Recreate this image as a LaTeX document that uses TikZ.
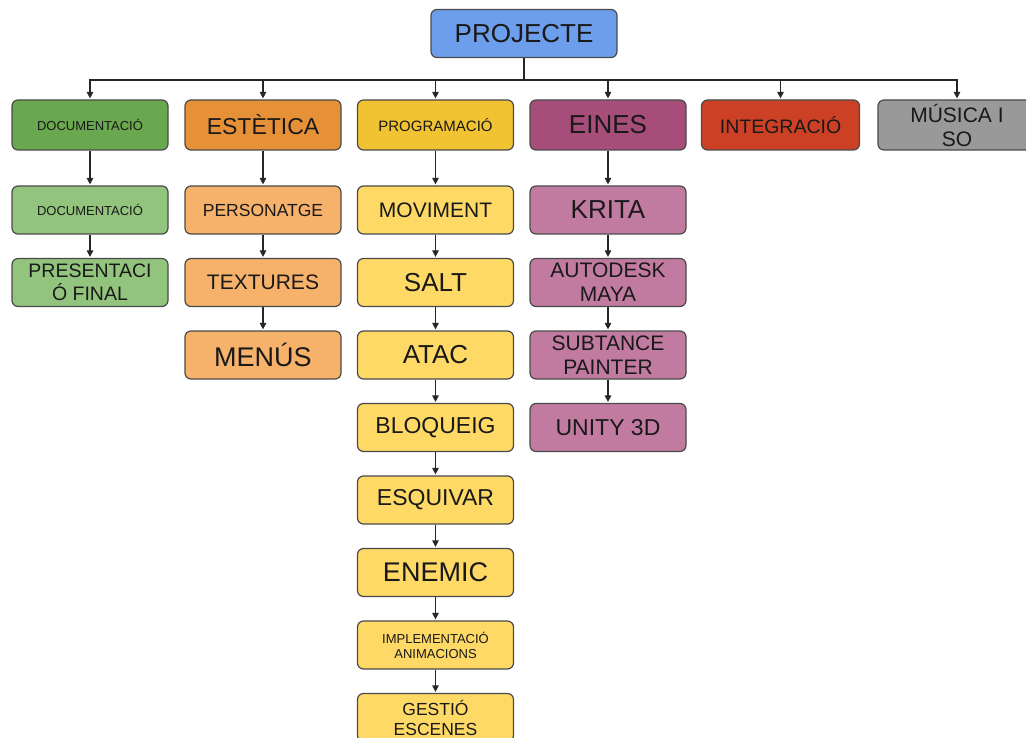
\documentclass[tikz,border=0pt]{standalone}
\usepackage{fontspec}
\setmainfont{Liberation Sans}
\usetikzlibrary{arrows.meta}
\definecolor{bordc}{HTML}{4A4A4A}
\definecolor{cblue}{HTML}{6D9EEB}
\definecolor{cgreen}{HTML}{6AA84F}
\definecolor{corange}{HTML}{E69138}
\definecolor{cyellow}{HTML}{F1C232}
\definecolor{cpurple}{HTML}{A64D79}
\definecolor{cred}{HTML}{CC4125}
\definecolor{cgray}{HTML}{999999}
\definecolor{lgreen}{HTML}{93C47D}
\definecolor{lorange}{HTML}{F6B26B}
\definecolor{lyellow}{HTML}{FFD966}
\definecolor{lpurple}{HTML}{C27BA0}
\tikzset{
  box/.style={draw=bordc, line width=1.2pt, rounded corners=6pt, minimum width=156pt,
    minimum height=48pt, inner sep=0pt, align=center, text=black!90},
  topbox/.style={box, minimum height=50pt},
  conn/.style={draw=black!85, line width=1.2pt},
  arr/.style={conn, -{Triangle[length=6.5pt,width=6.5pt]}, shorten >=1pt},
  f27/.style={font=\fontsize{27}{30}\selectfont},
  f26/.style={font=\fontsize{26}{29}\selectfont},
  f23/.style={font=\fontsize{23}{26}\selectfont},
  f21/.style={font=\fontsize{21}{24}\selectfont},
  f19/.style={font=\fontsize{19.5}{23}\selectfont},
  f17/.style={font=\fontsize{17.5}{20}\selectfont},
  f15/.style={font=\fontsize{15}{18}\selectfont},
  f13/.style={font=\fontsize{13}{15}\selectfont},
}
\begin{document}
\begin{tikzpicture}[x=1pt,y=-1pt]
\useasboundingbox[fill=white] (0,0) rectangle (1026,738);
% top
\node[box, fill=cblue, minimum width=186pt, minimum height=48pt, f26] (P) at (524,33.5) {PROJECTE};
% level 1
\node[topbox, fill=cgreen, f13] (doc) at (90,125) {DOCUMENTACIÓ};
\node[topbox, fill=corange, f23] (est) at (263,125) {ESTÈTICA};
\node[topbox, fill=cyellow, f15] (prog) at (435.5,125) {PROGRAMACIÓ};
\node[topbox, fill=cpurple, f26] (ein) at (608,125) {EINES};
\node[topbox, fill=cred, minimum width=158pt, f19] (integ) at (780.5,125) {INTEGRACIÓ};
\node[topbox, fill=cgray, minimum width=158pt, f21] (mus) at (957,125) {MÚSICA I\\SO};
% green column
\node[box, fill=lgreen, f13] (doc2) at (90,210) {DOCUMENTACIÓ};
\node[box, fill=lgreen, f19] (pres) at (90,282.5) {PRESENTACI\\Ó FINAL};
% orange column
\node[box, fill=lorange, f17] (pers) at (263,210) {PERSONATGE};
\node[box, fill=lorange, f21] (text) at (263,282.5) {TEXTURES};
\node[box, fill=lorange, f27] (menu) at (263,355) {MENÚS};
% yellow column
\node[box, fill=lyellow, f21] (mov) at (435.5,210) {MOVIMENT};
\node[box, fill=lyellow, f26] (salt) at (435.5,282.5) {SALT};
\node[box, fill=lyellow, f26] (atac) at (435.5,355) {ATAC};
\node[box, fill=lyellow, f23] (bloq) at (435.5,427.5) {BLOQUEIG};
\node[box, fill=lyellow, f23] (esq) at (435.5,500) {ESQUIVAR};
\node[box, fill=lyellow, f27] (enem) at (435.5,572.5) {ENEMIC};
\node[box, fill=lyellow, f13] (impl) at (435.5,645) {IMPLEMENTACIÓ\\ANIMACIONS};
\node[box, fill=lyellow, f17] (gest) at (435.5,717.5) {GESTIÓ\\ESCENES};
% purple column
\node[box, fill=lpurple, f26] (kri) at (608,210) {KRITA};
\node[box, fill=lpurple, f21] (maya) at (608,282.5) {AUTODESK\\MAYA};
\node[box, fill=lpurple, f21] (subs) at (608,355) {SUBTANCE\\PAINTER};
\node[box, fill=lpurple, f23] (unity) at (608,427.5) {UNITY 3D};
% bus
\coordinate (bj) at (524,80);
\coordinate (b1) at (90,80);
\coordinate (b2) at (263,80);
\coordinate (b3) at (435.5,80);
\coordinate (b4) at (608,80);
\coordinate (b5) at (780.5,80);
\coordinate (b6) at (957,80);
\draw[conn] (P.south) -- (bj);
\draw[conn, line cap=rect] (b1) -- (b6);
\foreach \b/\n in {b1/doc,b2/est,b3/prog,b4/ein,b5/integ,b6/mus}
  \draw[arr] (\b) -- (\n.north);
% chains
\foreach \a/\b in {doc/doc2,doc2/pres,est/pers,pers/text,text/menu,
  prog/mov,mov/salt,salt/atac,atac/bloq,bloq/esq,esq/enem,enem/impl,impl/gest,
  ein/kri,kri/maya,maya/subs,subs/unity}
  \draw[arr] (\a.south) -- (\b.north);
\end{tikzpicture}
\end{document}
